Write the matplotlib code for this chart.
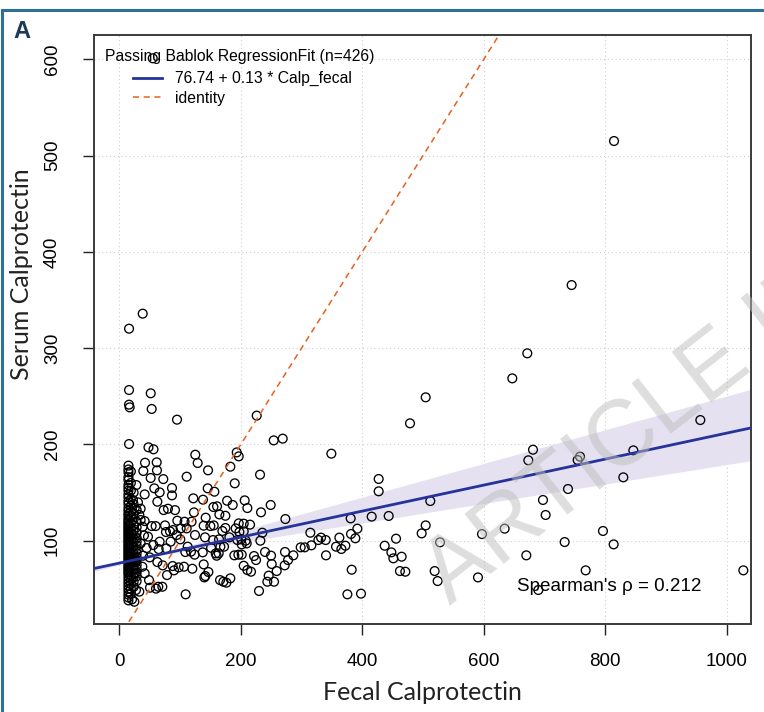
import matplotlib
matplotlib.use("Agg")
import matplotlib.pyplot as plt
import numpy as np
from matplotlib.lines import Line2D

# ---------------- data ----------------
# high fecal calprotectin (>= 460)
high_fecal = [744.7, 671.7, 647.0, 504.4, 478.6, 956.6, 846.3, 681.1, 673.4, 758.5, 754.6,
              829.8, 738.7, 512.0, 697.5, 701.9, 504.4, 497.8, 634.4, 597.1, 528.0, 796.3,
              733.2, 813.9, 464.8, 670.1, 470.9, 462.0, 519.2, 524.1, 590.5, 767.8, 1027.4,
              689.9, 814.5]
high_serum = [365.5, 294.6, 268.6, 248.9, 221.9, 225.3, 193.8, 194.5, 183.5, 187.3, 183.8,
              165.8, 153.7, 141.2, 142.3, 126.7, 115.9, 107.6, 112.5, 106.9, 98.3, 110.1,
              98.6, 96.2, 83.4, 84.8, 67.8, 68.5, 68.5, 58.1, 61.9, 69.2, 69.2,
              48.8, 515.1]

# middle fecal calprotectin (215 - 460)
mid_fecal = [226.2, 254.2, 269.0, 349.1, 231.7, 427.0, 427.0, 249.2, 233.3, 273.4, 380.9,
             415.5, 443.5, 215.2, 235.5, 314.5, 391.9, 381.5, 388.6, 232.2, 362.3, 332.1,
             327.7, 339.8, 316.2, 298.6, 305.2, 356.8, 365.6, 372.2, 455.6, 436.9, 447.9,
             451.2, 239.9, 221.8, 225.1, 249.8, 272.8, 286.5, 277.8, 272.3, 250.9, 259.1,
             245.9, 243.7, 254.7, 230.0, 216.8, 340.3, 382.6, 375.5, 397.9]
mid_serum = [229.9, 204.2, 206.0, 190.4, 168.6, 164.1, 151.3, 137.1, 129.5, 122.5, 123.2,
             125.0, 125.7, 116.7, 108.3, 108.3, 112.5, 107.0, 102.5, 100.0, 103.2, 103.2,
             100.7, 100.7, 95.2, 93.1, 93.1, 93.8, 91.4, 94.8, 102.1, 94.8, 87.9,
             81.7, 88.3, 84.1, 79.9, 84.5, 88.3, 84.8, 79.9, 74.4, 75.8, 68.5,
             63.7, 57.4, 57.4, 47.8, 67.8, 84.8, 69.9, 44.3, 45.0]

# lower-middle fecal calprotectin (133 - 215)
lowmid_fecal = [193.3, 196.6, 146.1, 182.8, 190.0, 145.5, 156.5, 137.8, 177.4, 186.7, 206.4,
                210.8, 154.9, 160.9, 164.7, 174.6, 142.2, 196.6, 204.8, 138.9, 149.9, 155.4,
                174.6, 169.7, 191.6, 197.7, 204.8, 141.1, 154.3, 164.2, 181.2, 194.4, 200.9,
                208.1, 151.0, 166.4, 172.4, 201.5, 209.7, 137.3, 158.7, 163.6, 160.3, 189.4,
                196.0, 201.5, 204.8, 210.8, 138.9, 146.6, 141.7, 140.0, 165.8, 171.3, 176.3,
                182.8]
lowmid_serum = [191.7, 187.6, 173.1, 176.9, 159.6, 154.4, 150.9, 142.6, 141.5, 137.1, 141.9,
                133.9, 135.0, 135.7, 127.3, 125.9, 123.9, 118.0, 117.7, 115.6, 115.2, 115.9,
                113.2, 110.1, 112.8, 109.0, 109.7, 103.5, 100.7, 101.4, 103.5, 100.7, 101.4,
                100.0, 92.7, 93.8, 93.8, 96.2, 97.2, 87.9, 86.8, 86.8, 84.4, 84.8,
                85.5, 85.5, 74.0, 69.5, 75.4, 67.5, 63.3, 61.9, 59.1, 57.4, 56.4,
                60.9]

# low fecal calprotectin (< 133), outside the dense column
low_fecal = [55.0, 38.5, 16.0, 16.0, 51.7, 16.0, 17.0, 53.3, 95.0, 16.0, 48.0, 56.3, 125.1,
             129.0, 42.3, 61.5, 39.5, 62.0, 51.6, 72.4, 110.9, 28.0, 57.6, 66.4, 86.7, 86.7,
             41.7, 62.6, 121.8, 22.5, 30.7, 25.3, 35.1, 73.0, 80.1, 91.7, 122.9, 23.1, 33.0,
             41.7, 35.1, 95.5, 107.4, 118.9, 59.8, 53.2, 38.4, 75.2, 88.4, 83.4, 76.8, 101.0,
             110.9, 40.6, 47.2, 124.6, 94.4, 100.4, 84.5, 66.4, 35.1, 56.0, 45.0, 64.8, 77.4,
             112.5, 118.0, 124.0, 108.7, 39.0, 27.4, 49.9, 62.6, 71.4, 87.8, 97.7, 106.5,
             120.2, 37.9, 41.7, 25.3, 48.9, 64.2, 70.8, 50.5, 60.4, 27.4, 32.9, 109.2, 20.9,
             24.7, 90.0, 78.5]
low_serum = [601.0, 335.8, 320.2, 256.5, 253.1, 241.3, 238.5, 236.8, 225.7, 200.4, 197.0, 194.9,
             189.3, 180.7, 181.0, 181.4, 172.4, 173.1, 165.1, 164.0, 166.5, 157.8, 154.4, 150.2,
             154.7, 147.1, 148.1, 140.5, 144.0, 142.2, 139.8, 133.9, 133.2, 131.8, 133.2, 131.8,
             129.4, 127.7, 126.7, 120.4, 121.5, 120.8, 119.7, 119.7, 115.2, 115.2, 114.5, 115.9,
             111.1, 109.7, 109.0, 112.8, 112.8, 105.5, 104.2, 105.9, 105.9, 101.4, 99.0, 99.0,
             97.2, 95.5, 92.4, 91.3, 92.0, 93.8, 88.6, 85.5, 88.2, 84.4, 80.6, 82.7, 77.8, 74.4,
             73.7, 72.3, 73.0, 70.9, 73.0, 66.1, 66.1, 59.1, 52.2, 52.2, 51.2, 50.2, 48.8, 47.1,
             44.3, 39.1, 36.6, 69.2, 64.3]

# dense column near the lower limit of the fecal assay
col_a_serum = [178, 174, 171, 166, 163, 158, 155, 152, 148, 145, 141, 138, 134, 131, 128, 126,
               123, 121, 119, 117, 115, 113, 111, 109, 107, 105, 103, 101, 99, 97, 95, 93, 91,
               89, 87, 85, 83, 81, 79, 77, 75, 73, 71, 69, 67, 65, 62, 59, 56, 53, 50, 47, 44,
               41, 38]
col_b_serum = [172, 160, 152, 143, 136, 130, 124, 118, 112, 108, 104, 100, 96, 92, 88, 84, 80,
               76, 72, 68, 64, 60, 55, 50, 45]
col_c_serum = [150, 138, 128, 122, 116, 110, 106, 102, 98, 94, 90, 86, 82, 78, 74, 70, 66, 62,
               57, 52]
col_d_serum = [132, 120, 114, 108, 103, 99, 95, 91, 87, 83, 79, 75, 71, 67, 63, 58]
col_fecal = [15.0, 19.0, 23.5, 28.5]

# Passing-Bablok fit and its confidence band
fit_intercept, fit_slope = 76.74, 0.135
band_lower = (78.06, 0.101)
band_upper = (75.25, 0.175)
fit_label = "76.74 + 0.13 * Calp_fecal"
legend_title = "Passing Bablok RegressionFit (n=426)"
spearman_text = "Spearman's \u03c1 = 0.212"

x_ticks = [0, 200, 400, 600, 800, 1000]
y_ticks = [100, 200, 300, 400, 500, 600]

# ---------------- assemble ----------------
col_groups = [col_a_serum, col_b_serum, col_c_serum, col_d_serum]
fecal = np.concatenate([high_fecal, mid_fecal, lowmid_fecal, low_fecal] +
                       [np.full(len(g), f) for g, f in zip(col_groups, col_fecal)])
serum = np.concatenate([high_serum, mid_serum, lowmid_serum, low_serum] + col_groups)

# ---------------- figure ----------------
W, H = 764, 712
fig = plt.figure(figsize=(W / 100, H / 100), dpi=100)
fig.patch.set_facecolor("white")

ax_l, ax_r, ax_t, ax_b = 94.3, 750.5, 35.0, 624.0
ax = fig.add_axes([ax_l / W, 1 - ax_b / H, (ax_r - ax_l) / W, (ax_b - ax_t) / H])
ax.set_xlim(-41.2, 1039.2)
ax.set_ylim(13.5, 625.2)

base = "Liberation Sans"

# grid
for xv in x_ticks:
    ax.axvline(xv, color="#cfcfcf", lw=0.8, ls=(0, (1, 2.5)), zorder=0)
for yv in y_ticks:
    ax.axhline(yv, color="#cfcfcf", lw=0.8, ls=(0, (1, 2.5)), zorder=0)

# confidence band
xs = np.linspace(-41.2, 1039.2, 200)
lo = band_lower[0] + band_lower[1] * xs
hi = band_upper[0] + band_upper[1] * xs
ax.fill_between(xs, np.minimum(lo, hi), np.maximum(lo, hi), color="#e6e1f0", lw=0, zorder=1)

# points
ax.scatter(fecal, serum, s=40, facecolors="none", edgecolors="black", linewidths=0.95, zorder=3)

# fit line
ax.plot(xs, fit_intercept + fit_slope * xs, color="#25339a", lw=2.0, zorder=4)
# identity line
ax.plot([-50, 1100], [-50, 1100], color="#e8601c", lw=1.1, ls=(0, (4, 3)), zorder=4)

# spines / ticks
for s in ax.spines.values():
    s.set_linewidth(1.4)
    s.set_color("#3a3a3a")
ax.set_xticks(x_ticks)
ax.set_yticks(y_ticks)
ax.tick_params(direction="out", length=8, width=1.0, color="#222222", pad=13,
               labelsize=13.5)
ax.tick_params(axis="y", pad=16)
for lab in ax.get_xticklabels():
    lab.set_fontfamily(base)
for lab in ax.get_yticklabels():
    lab.set_fontfamily(base)
    lab.set_rotation(90)
    lab.set_va("center")

ax.set_xlabel("Fecal Calprotectin", fontfamily="Lato", fontsize=18, color="#222222")
ax.xaxis.set_label_coords(0.5, -(692 - ax_b) / (ax_b - ax_t), transform=ax.transAxes)
ax.xaxis.label.set_va("center")
ax.set_ylabel("Serum Calprotectin", fontfamily="Lato", fontsize=18, color="#222222")
ax.yaxis.set_label_coords(-(ax_l - 22) / (ax_r - ax_l), (ax_b - 274) / (ax_b - ax_t),
                          transform=ax.transAxes)
ax.yaxis.label.set_va("center")

# legend
ax.text((105 - ax_l) / (ax_r - ax_l), (ax_b - 56) / (ax_b - ax_t), legend_title,
        transform=ax.transAxes, ha="left", va="center", fontsize=11.3, fontfamily=base, zorder=5)
handles = [Line2D([], [], color="#25339a", lw=2.0),
           Line2D([], [], color="#e8601c", lw=1.1, ls=(0, (4, 3)))]
ax.legend(handles, [fit_label, "identity"], loc="upper left",
          bbox_to_anchor=((133 - ax_l) / (ax_r - ax_l), (ax_b - 71) / (ax_b - ax_t)),
          frameon=False, borderpad=0, borderaxespad=0, handlelength=1.85,
          handletextpad=0.85, labelspacing=0.3, prop={"family": base, "size": 11.3})

# Spearman annotation
ax.text(655, 52, spearman_text, ha="left", va="center", fontsize=13.6, fontfamily=base, zorder=5)

# watermark
fig.text(450 / W, 1 - 606 / H, "ARTICLE IN PRESS", rotation=38, rotation_mode="anchor",
         ha="left", va="baseline", fontsize=66, fontfamily=base, color="#bdbdbd", alpha=0.5,
         zorder=10)

# panel frame and label
fig.add_artist(Line2D([2 / W, 2 / W], [0, 1 - 10 / H], transform=fig.transFigure,
                      color="#2f6f98", lw=2.2))
fig.add_artist(Line2D([2 / W, 1.01], [1 - 10 / H, 1 - 10 / H], transform=fig.transFigure,
                      color="#2f6f98", lw=2.2))
fig.text(13 / W, 1 - 32 / H, "A", fontsize=17, fontweight="bold", fontfamily=base,
         color="#1b3a57", ha="left", va="center")

fig.savefig("out.png", dpi=100)
